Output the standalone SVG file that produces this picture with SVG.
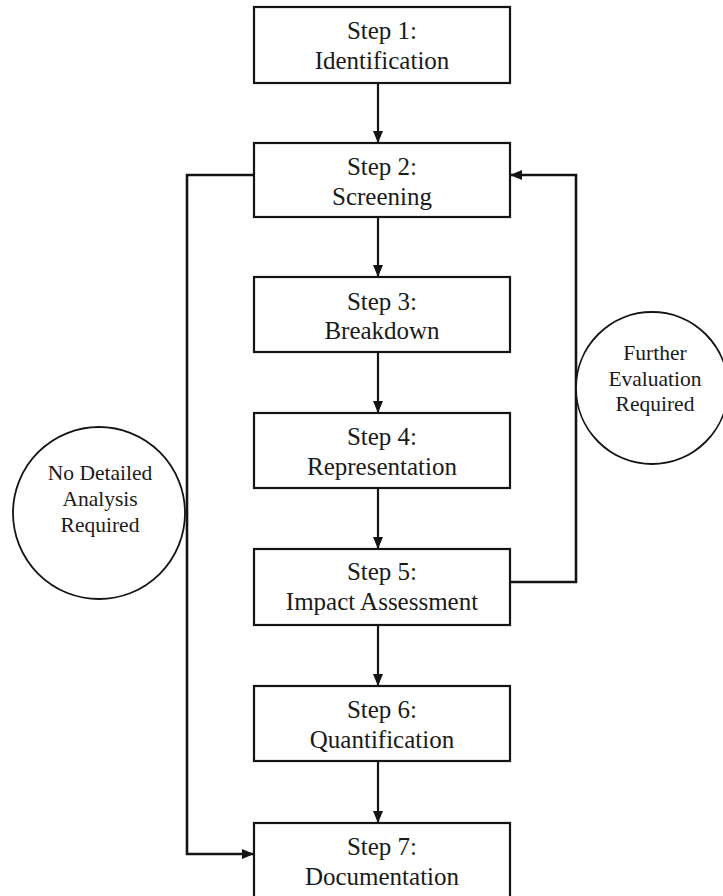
<svg xmlns="http://www.w3.org/2000/svg" width="723" height="896" viewBox="0 0 723 896">
<style>
.box{fill:#fff;stroke:#141414;stroke-width:2.2}
.circ{fill:#fff;stroke:#141414;stroke-width:1.8}
.lbl{font-family:"Liberation Serif","Times New Roman",serif;font-size:25px;fill:#1a1a1a;text-anchor:middle}
.clbl{font-family:"Liberation Serif","Times New Roman",serif;font-size:21.5px;fill:#1a1a1a;text-anchor:middle}
.con{fill:none;stroke:#141414;stroke-width:2.2}
.con2{fill:none;stroke:#141414;stroke-width:2.6}
</style>
<defs>
<marker id="ah" viewBox="0 0 12 10" refX="12" refY="5" markerWidth="12" markerHeight="10" markerUnits="userSpaceOnUse" orient="auto">
<path d="M0,0 L12,5 L0,10 Z" fill="#141414"/>
</marker>
</defs>
<rect width="723" height="896" fill="#fff"/>
<g id="connectors">
<line class="con" x1="378" y1="83" x2="378" y2="143" marker-end="url(#ah)"/>
<line class="con" x1="378" y1="217" x2="378" y2="277" marker-end="url(#ah)"/>
<line class="con" x1="378" y1="352" x2="378" y2="413" marker-end="url(#ah)"/>
<line class="con" x1="378" y1="488" x2="378" y2="549" marker-end="url(#ah)"/>
<line class="con" x1="378" y1="625" x2="378" y2="686" marker-end="url(#ah)"/>
<line class="con" x1="378" y1="761" x2="378" y2="823" marker-end="url(#ah)"/>
<polyline class="con2" points="254,175 187,175 187,854 254,854" marker-end="url(#ah)"/>
<polyline class="con2" points="510,582 576,582 576,175 510,175" marker-end="url(#ah)"/>
</g>
<g id="step1"><rect class="box" x="254" y="7" width="256" height="76"/><text class="lbl" x="382" y="39">Step 1:</text><text class="lbl" x="382" y="69">Identification</text></g>
<g id="step2"><rect class="box" x="254" y="143" width="256" height="74"/><text class="lbl" x="382" y="175">Step 2:</text><text class="lbl" x="382" y="205">Screening</text></g>
<g id="step3"><rect class="box" x="254" y="277" width="256" height="75"/><text class="lbl" x="382" y="310">Step 3:</text><text class="lbl" x="382" y="339">Breakdown</text></g>
<g id="step4"><rect class="box" x="254" y="413" width="256" height="75"/><text class="lbl" x="382" y="445">Step 4:</text><text class="lbl" x="382" y="475">Representation</text></g>
<g id="step5"><rect class="box" x="254" y="549" width="256" height="76"/><text class="lbl" x="382" y="580">Step 5:</text><text class="lbl" x="382" y="610">Impact Assessment</text></g>
<g id="step6"><rect class="box" x="254" y="686" width="256" height="75"/><text class="lbl" x="382" y="718">Step 6:</text><text class="lbl" x="382" y="748">Quantification</text></g>
<g id="step7"><rect class="box" x="254" y="823" width="256" height="76"/><text class="lbl" x="382" y="855">Step 7:</text><text class="lbl" x="382" y="885">Documentation</text></g>
<g id="no-detailed"><circle class="circ" cx="99" cy="513" r="86"/><text class="clbl" x="100" y="480">No Detailed</text><text class="clbl" x="100" y="506">Analysis</text><text class="clbl" x="100" y="532">Required</text></g>
<g id="further-eval"><circle class="circ" cx="652" cy="388" r="76"/><text class="clbl" x="655" y="360">Further</text><text class="clbl" x="655" y="386">Evaluation</text><text class="clbl" x="655" y="411">Required</text></g>
</svg>
